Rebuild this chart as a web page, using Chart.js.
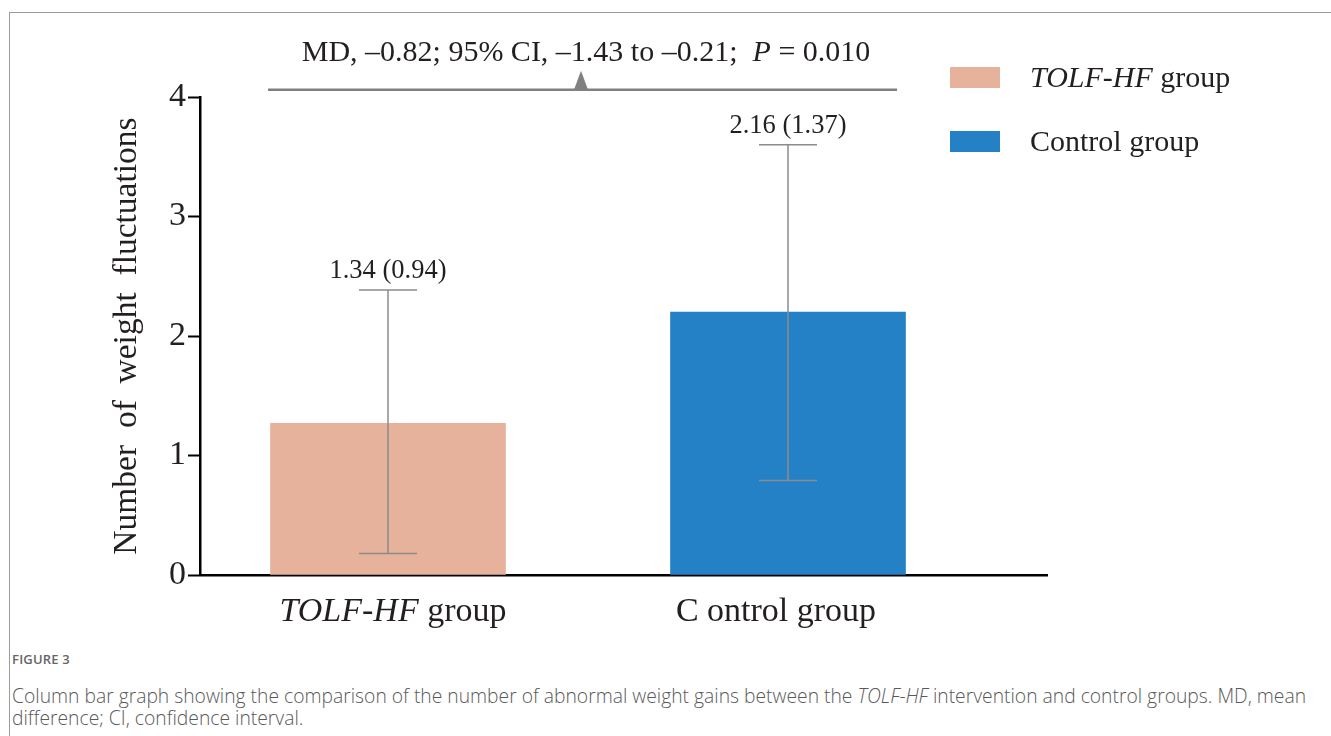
<!DOCTYPE html>
<html>
<head>
<meta charset="utf-8">
<script src="https://cdn.jsdelivr.net/npm/chart.js@4.4.0/dist/chart.umd.min.js"></script>
<style>
  html, body { margin: 0; padding: 0; background: #fff; }
  body { width: 1331px; height: 736px; position: relative; overflow: hidden;
         font-family: 'Liberation Serif', 'Times New Roman', serif; color: #231f20; }
  .frame { position: absolute; left: 9px; top: 12px; right: -10px; bottom: -10px;
           border-left: 1.5px solid #9c9c9c; border-top: 1.5px solid #9c9c9c; }
  #wrap { position: absolute; left: 0; top: 0; }
  .note { position: absolute; left: 586px; top: 36px; transform: translateX(-50%);
          font-size: 30px; white-space: nowrap; line-height: 1; }
  .legend { position: absolute; left: 950px; font-size: 30px; line-height: 1; white-space: nowrap; }
  .legend .sw { position: absolute; left: 0; width: 50px; height: 21px; }
  .legend .tx { position: absolute; left: 80px; top: -5px; }
  .cap { position: absolute; left: 12px; font-family: 'Open Sans', 'Noto Sans', sans-serif; color: #5a5a5a; }
  .cap-head { top: 650px; font-size: 13px; font-weight: 600; color: #666; letter-spacing: 0.2px; }
  .cap-body { top: 685px; font-size: 19.3px; line-height: 22px; white-space: nowrap; font-weight: 300; }
</style>
</head>
<body>
<div class="frame"></div>
<div id="wrap"><canvas id="chart" width="1331" height="640"></canvas></div>

<div class="note">MD, –0.82; 95% CI, –1.43 to –0.21;&nbsp; <i>P</i> = 0.010</div>

<div class="legend" style="top:67px;"><div class="sw" style="background:#e7b29b;"></div><div class="tx"><i>TOLF-HF</i> group</div></div>
<div class="legend" style="top:131px;"><div class="sw" style="background:#2581c5;"></div><div class="tx">Control group</div></div>

<div class="cap cap-head">FIGURE 3</div>
<div class="cap cap-body">Column bar graph showing the comparison of the number of abnormal weight gains between the <i>TOLF-HF</i> intervention and control groups. MD, mean<br>difference; CI, confidence interval.</div>

<script>
(function () {
  // category labels: italic prefix + plain rest
  const CAT_ITALIC = ['TOLF-HF', ''];
  const CAT_PLAIN  = [' group', 'C ontrol group'];
  const CAT_POS    = [1, 2];

  const MEANS      = [1.27, 2.20];
  const ERR_LOW    = [0.18, 0.79];
  const ERR_HIGH   = [2.385, 3.60];
  const VALUE_TEXT = ['1.34 (0.94)', '2.16 (1.37)'];

  const Y_TICKS    = [0, 1, 2, 3, 4];

  // comparison bracket above the bars
  const BRACKET_X   = [0.70, 2.2725];
  const BRACKET_MID = 1.4825;
  const BRACKET_Y   = 4.06;

  const BAR_COLORS  = ['#e7b29b', '#2581c5'];
  const LABEL_NUDGE = [5, -12]; // px, the labels sit slightly off the bar centres
  const SERIF = "'Liberation Serif', 'Times New Roman', serif";
  const INK   = '#231f20';

  const overlay = {
    id: 'overlay',
    afterDatasetsDraw(chart) {
      const c = chart.ctx, x = chart.scales.x, y = chart.scales.y;
      c.save();

      // error bars
      c.strokeStyle = '#8c8c8c';
      c.lineWidth = 1.5;
      CAT_POS.forEach((p, i) => {
        const px = x.getPixelForValue(p);
        const lo = y.getPixelForValue(ERR_LOW[i]);
        const hi = y.getPixelForValue(ERR_HIGH[i]);
        c.beginPath();
        c.moveTo(px, lo); c.lineTo(px, hi);
        c.moveTo(px - 29, lo); c.lineTo(px + 29, lo);
        c.moveTo(px - 29, hi); c.lineTo(px + 29, hi);
        c.stroke();

        c.fillStyle = INK;
        c.font = '26.5px ' + SERIF;
        c.textAlign = 'center';
        c.textBaseline = 'alphabetic';
        c.fillText(VALUE_TEXT[i], px, hi - 12);
      });

      // bracket + marker
      const by = y.getPixelForValue(BRACKET_Y);
      c.strokeStyle = '#808080';
      c.lineWidth = 2.5;
      c.beginPath();
      c.moveTo(x.getPixelForValue(BRACKET_X[0]), by);
      c.lineTo(x.getPixelForValue(BRACKET_X[1]), by);
      c.stroke();
      const mx = x.getPixelForValue(BRACKET_MID);
      c.fillStyle = '#808080';
      c.beginPath();
      c.moveTo(mx - 7, by); c.lineTo(mx + 7, by); c.lineTo(mx, by - 19);
      c.closePath(); c.fill();

      // category labels under the axis
      c.fillStyle = INK;
      c.textAlign = 'left';
      CAT_POS.forEach((p, i) => {
        const f = '34px ' + SERIF;
        c.font = 'italic ' + f;
        const w1 = c.measureText(CAT_ITALIC[i]).width;
        c.font = f;
        const w2 = c.measureText(CAT_PLAIN[i]).width;
        const sx = x.getPixelForValue(p) + LABEL_NUDGE[i] - (w1 + w2) / 2;
        const base = y.bottom + 46;
        c.font = 'italic ' + f;
        c.fillText(CAT_ITALIC[i], sx, base);
        c.font = f;
        c.fillText(CAT_PLAIN[i], sx + w1, base);
      });

      c.restore();
    },
  };

  new Chart(document.getElementById('chart'), {
    type: 'bar',
    data: {
      datasets: [{
        data: CAT_POS.map((p, i) => ({ x: p, y: MEANS[i] })),
        backgroundColor: BAR_COLORS,
        borderWidth: 0,
        barThickness: 235,
      }],
    },
    options: {
      responsive: false,
      animation: false,
      events: [],
      layout: { padding: { top: 97, right: 284, bottom: 0, left: 0 } },
      plugins: { legend: { display: false }, tooltip: { enabled: false } },
      scales: {
        x: {
          type: 'linear',
          offset: false,
          min: 0.53,
          max: 2.6475,
          ticks: { display: false },
          grid: { display: false },
          border: { color: '#000', width: 2.5 },
          afterFit: s => { s.height = 65; },
        },
        y: {
          min: 0,
          max: 4,
          afterBuildTicks: s => { s.ticks = Y_TICKS.map(v => ({ value: v })); },
          ticks: { font: { family: SERIF, size: 34 }, color: INK, padding: 2 },
          grid: { drawOnChartArea: false, tickLength: 12, tickWidth: 2, tickColor: '#000' },
          border: { color: '#000', width: 2.5 },
          title: {
            display: true,
            text: 'Number  of  weight  fluctuations',
            font: { family: SERIF, size: 33.5 },
            color: INK,
            padding: { top: 107, bottom: 0 },
          },
          afterFit: s => { s.width = 200; },
        },
      },
    },
    plugins: [overlay],
  });
})();
</script>
</body>
</html>
